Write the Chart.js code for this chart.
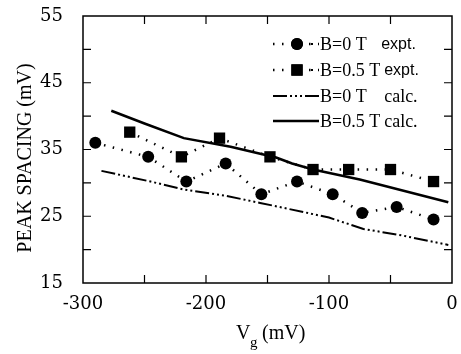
<!DOCTYPE html>
<html>
<head>
<meta charset="utf-8">
<script src="https://cdn.jsdelivr.net/npm/chart.js@4/dist/chart.umd.min.js"></script>
<style>
  html, body { margin: 0; padding: 0; background: #fff; }
  #wrap { width: 461px; height: 354px; }
</style>
</head>
<body>
<div id="wrap"><canvas id="chart"></canvas></div>
<script>
// data
const expt0X = [-290, -247, -216, -184, -155, -126, -97, -73, -45, -15];
const expt0Y = [36.0, 33.9, 30.2, 32.9, 28.3, 30.2, 28.3, 25.5, 26.4, 24.5];
const expt05X = [-262, -220, -189, -148, -113, -84, -50, -15];
const expt05Y = [37.6, 33.9, 36.7, 33.9, 32.0, 32.0, 32.0, 30.2];
const calc0X = [-285, -245, -218, -185, -156, -120, -100, -72, -40, -3];
const calc0Y = [31.8, 30.2, 29.0, 28.1, 27.0, 25.6, 24.8, 23.1, 22.1, 20.7];
const calc05X = [-277, -250, -218, -180, -143, -130, -113, -75, -3];
const calc05Y = [40.8, 38.9, 36.7, 35.4, 33.8, 32.9, 32.0, 30.5, 27.1];
const legendNames = ['B=0 T', 'B=0.5 T', 'B=0 T', 'B=0.5 T'];
const legendTags = ['expt.', 'expt.', 'calc.', 'calc.'];

function pts(xs, ys) {
    return xs.map((x, i) => ({ x: x, y: ys[i] }))
}

const dotted = [1.5, 7.5];
const dashDotDot = [14, 3, 2, 3, 2, 3, 2, 3];

// frame, inward ticks, axis titles, legend
const decor = {
    id: 'decor',
    afterDraw(chart) {
        const ctx = chart.ctx;
        const a = chart.chartArea;
        const xs = chart.scales.x, ys = chart.scales.y;
        ctx.save();
        ctx.strokeStyle = '#000';
        ctx.lineWidth = 1.5;
        ctx.strokeRect(a.left, a.top, a.right - a.left, a.bottom - a.top);
        ctx.lineWidth = 1.2;
        ctx.beginPath();
        for (let v = -250; v < 0; v += 50) {
            const px = xs.getPixelForValue(v);
            ctx.moveTo(px, a.bottom); ctx.lineTo(px, a.bottom - 8);
            ctx.moveTo(px, a.top); ctx.lineTo(px, a.top + 8);
        }
        for (let v = 20; v < 55; v += 5) {
            const py = ys.getPixelForValue(v);
            ctx.moveTo(a.left, py); ctx.lineTo(a.left + 8, py);
            ctx.moveTo(a.right, py); ctx.lineTo(a.right - 8, py);
        }
        ctx.stroke();

        // x title
        ctx.fillStyle = '#000';
        ctx.textBaseline = 'alphabetic';
        ctx.textAlign = 'left';
        ctx.font = '20px "Liberation Serif"';
        ctx.fillText('V', 236, 339);
        ctx.font = '15px "Liberation Serif"';
        ctx.fillText('g', 250, 347);
        ctx.font = '20px "Liberation Serif"';
        ctx.fillText('(mV)', 262, 339);

        // y title
        ctx.save();
        ctx.translate(26, 158);
        ctx.rotate(-Math.PI / 2);
        ctx.textAlign = 'center';
        ctx.textBaseline = 'middle';
        ctx.font = '20px "Liberation Serif"';
        ctx.fillText('PEAK SPACING (mV)', 0, 0);
        ctx.restore();

        // legend
        const rows = [44, 70, 96, 121];
        ctx.font = '18px "Liberation Serif"';
        const tagX = 320 + ctx.measureText('B=0.5 T').width + 4;
        chart.data.datasets.forEach((ds, i) => {
            const y = rows[i];
            ctx.save();
            ctx.strokeStyle = '#000';
            ctx.lineWidth = ds.borderWidth;
            ctx.setLineDash(ds.borderDash || []);
            ctx.beginPath();
            ctx.moveTo(273, y);
            ctx.lineTo(319, y);
            ctx.stroke();
            ctx.restore();
            if (ds.pointRadius > 0) {
                ctx.fillStyle = '#fff';
                ctx.fillRect(288, y - 7, 18, 14);
                ctx.fillStyle = '#000';
                Chart.helpers.drawPoint(ctx, { pointStyle: ds.pointStyle, radius: ds.pointRadius, borderWidth: 0 }, 297, y);
                ctx.fill();
                ctx.fillRect(311, y - 1, 2, 2);
            }
            ctx.fillStyle = '#000';
            ctx.textAlign = 'left';
            ctx.textBaseline = 'middle';
            ctx.font = '18px "Liberation Serif"';
            ctx.fillText(legendNames[i], 320, y + 1);
            if (legendTags[i] === 'expt.') {
                ctx.font = '16px "Liberation Sans"';
                ctx.fillText(legendTags[i], i === 0 ? tagX - 3 : tagX, y + 1);
            } else {
                ctx.fillText(legendTags[i], tagX, y + 1);
            }
        });
        ctx.restore();
    }
};

function noPad(s) {
    s.paddingTop = 0; s.paddingBottom = 0; s.paddingLeft = 0; s.paddingRight = 0;
}

new Chart(document.getElementById('chart').getContext('2d'), {
    type: 'line',
    data: {
        datasets: [
            {
                label: 'B=0 T expt.',
                data: pts(expt0X, expt0Y),
                borderColor: '#000', backgroundColor: '#000',
                borderWidth: 2.5, borderDash: dotted,
                pointStyle: 'circle', pointRadius: 6, pointBorderWidth: 0
            },
            {
                label: 'B=0.5 T expt.',
                data: pts(expt05X, expt05Y),
                borderColor: '#000', backgroundColor: '#000',
                borderWidth: 2.5, borderDash: dotted,
                pointStyle: 'rect', pointRadius: 8, pointBorderWidth: 0
            },
            {
                label: 'B=0 T calc.',
                data: pts(calc0X, calc0Y),
                borderColor: '#000', borderWidth: 2, borderDash: dashDotDot,
                pointRadius: 0
            },
            {
                label: 'B=0.5 T calc.',
                data: pts(calc05X, calc05Y),
                borderColor: '#000', borderWidth: 2.5,
                pointRadius: 0
            }
        ]
    },
    options: {
        responsive: true,
        maintainAspectRatio: false,
        animation: false,
        layout: { padding: { top: 16, right: 9, left: 0, bottom: 0 } },
        plugins: { legend: { display: false }, tooltip: { enabled: false } },
        elements: { line: { tension: 0 } },
        scales: {
            x: {
                type: 'linear', min: -300, max: 0,
                grid: { display: false, drawTicks: false },
                border: { display: false },
                ticks: {
                    stepSize: 100, padding: 11, color: '#000',
                    font: { family: 'DejaVu Serif', size: 18 }
                },
                afterFit(s) { s.height = 71; noPad(s); }
            },
            y: {
                min: 15, max: 55,
                grid: { display: false, drawTicks: false },
                border: { display: false },
                ticks: {
                    stepSize: 10, padding: 20, color: '#000',
                    font: { family: 'DejaVu Serif', size: 18 }
                },
                afterFit(s) { s.width = 83; noPad(s); }
            }
        }
    },
    plugins: [decor]
});
</script>
</body>
</html>
